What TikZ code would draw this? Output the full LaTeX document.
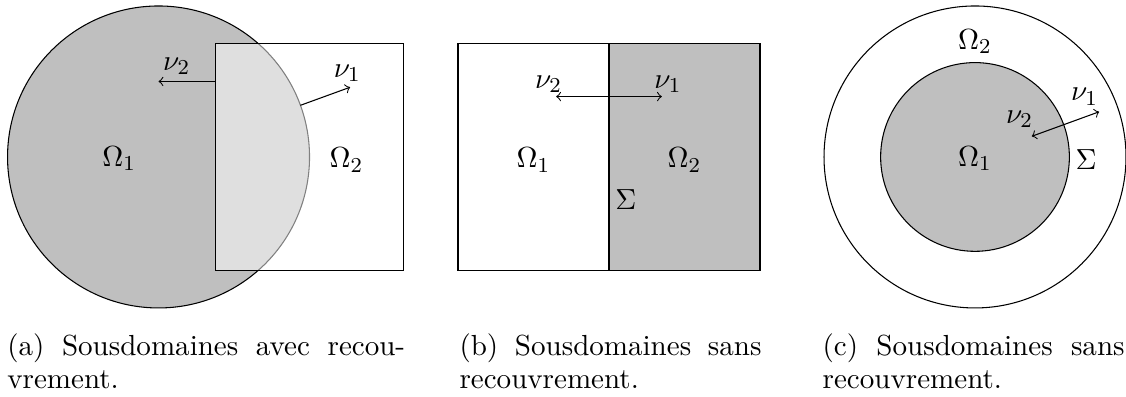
\documentclass[11pt,tikz,border=0pt]{standalone}
\usetikzlibrary{positioning}
\tikzset{
  sousdom/.style={fill=black!25},
  legende/.style={anchor=north west, inner sep=0pt, align=justify,
    font=\fontsize{10.95}{12.6}\selectfont},
}
\begin{document}
\begin{tikzpicture}[scale=1.0]
\useasboundingbox (-2.1,-3.179) rectangle (12.815,2.079);
% (a) avec recouvrement
\filldraw[sousdom] (0,0) circle (2);
\filldraw[fill=white, fill opacity=0.5] (0.75,-1.5) rectangle (3.25,1.5);
\node (omA1) at (-0.52,-0.02) {$\Omega_1$};
\node (omA2) at (2.49,-0.04) {$\Omega_2$};
\coordinate (nuA2s) at (0.75,1);
\coordinate (nuA2e) at (0,1);
\draw[->] (nuA2s) -- (nuA2e);
\node (nuA2) at (0.24,1.2) {$\nu_2$};
\coordinate (nuA1s) at (20:2);
\coordinate (nuA1e) at (20:2.7);
\draw[->] (nuA1s) -- (nuA1e);
\node (nuA1) at (2.50,1.11) {$\nu_1$};
\node[legende, text width=5.27cm] (capA) at (-2.01,-2.33)
  {(a) Sousdomaines avec recou\-vrement.};
% (b) sans recouvrement
\fill[sousdom] (5.967,-1.5) rectangle (7.967,1.5);
\draw (3.967,-1.5) rectangle (7.967,1.5);
\draw (5.967,-1.5) -- (5.967,1.5);
\node (omB1) at (4.967,-0.04) {$\Omega_1$};
\node (omB2) at (6.967,-0.04) {$\Omega_2$};
\node (sigB) at (6.19,-0.57) {$\Sigma$};
\coordinate (nuB2e) at (5.267,0.8);
\coordinate (nuB1e) at (6.667,0.8);
\draw[<->] (nuB2e) -- (nuB1e);
\node (nuB2) at (5.167,0.96) {$\nu_2$};
\node (nuB1) at (6.747,0.96) {$\nu_1$};
\node[legende, text width=4cm] (capB) at (3.98,-2.33)
  {(b) Sousdomaines sans \mbox{recouvrement.}};
% (c) sans recouvrement, disques
\draw (10.815,0) circle (2);
\filldraw[sousdom] (10.815,0) circle (1.25);
\node (omC2) at (10.815,1.53) {$\Omega_2$};
\node (omC1) at (10.815,-0.02) {$\Omega_1$};
\node (sigC) at (12.285,-0.04) {$\Sigma$};
\coordinate (nuC2e) at ([shift={(10.815,0)}]20:0.8);
\coordinate (nuC1e) at ([shift={(10.815,0)}]20:1.75);
\draw[<->] (nuC2e) -- (nuC1e);
\node (nuC2) at (11.405,0.50) {$\nu_2$};
\node (nuC1) at (12.265,0.80) {$\nu_1$};
\node[legende, text width=4cm] (capC) at (8.79,-2.33)
  {(c) Sousdomaines sans \mbox{recouvrement.}};
\end{tikzpicture}
\end{document}
